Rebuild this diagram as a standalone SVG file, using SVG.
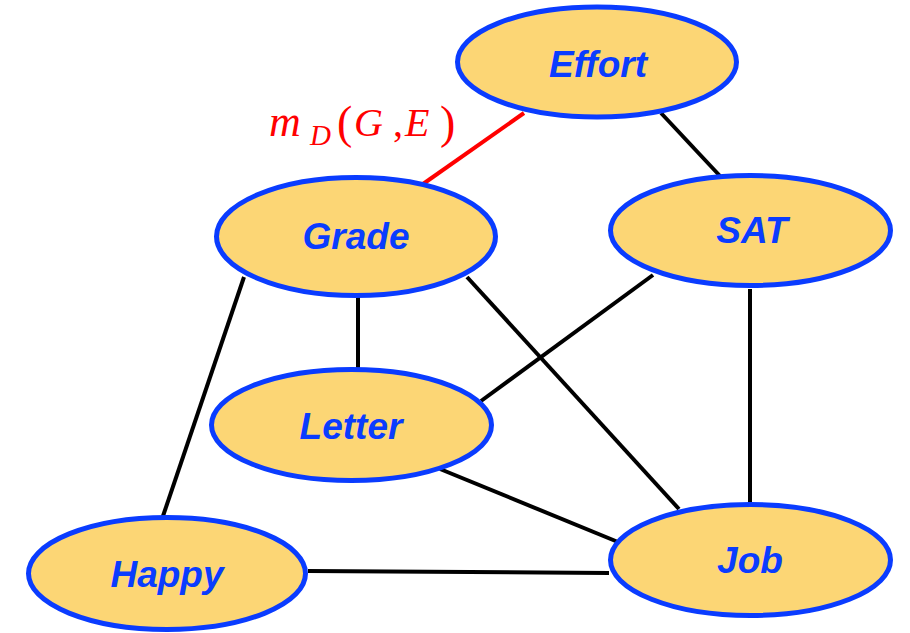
<svg xmlns="http://www.w3.org/2000/svg" width="910" height="633" viewBox="0 0 910 633">
<style>
.node ellipse{fill:#FCD675;stroke:#0A3CFF;stroke-width:5}
.node text{font-family:"Liberation Sans",Arial,sans-serif;font-weight:bold;font-style:italic;font-size:37px;fill:#0A3CFF;text-anchor:middle}
.edge{stroke:#000;stroke-width:4;fill:none}
.red{stroke:#FF0000}
.math{font-family:"Liberation Serif","Times New Roman",serif;fill:#FF0000;font-size:40px}
.it{font-style:italic}
.par{font-size:46px}
</style>
<rect width="910" height="633" fill="#fff"/>
<g id="connectors">
<line class="edge red" x1="423" y1="184" x2="524" y2="113"/>
<line class="edge" x1="661" y1="113" x2="720" y2="176"/>
<line class="edge" x1="244" y1="277" x2="162" y2="519"/>
<line class="edge" x1="358" y1="297" x2="358" y2="369"/>
<line class="edge" x1="467" y1="277" x2="679" y2="509"/>
<line class="edge" x1="653" y1="275" x2="481" y2="401"/>
<line class="edge" x1="750" y1="289" x2="750" y2="503"/>
<line class="edge" x1="440" y1="469" x2="618" y2="542"/>
<line class="edge" x1="308" y1="571" x2="609" y2="573"/>
</g>
<text id="label" class="math" y="136"><tspan x="269" class="it" font-size="44">m</tspan><tspan x="310" y="145" class="it" font-size="29">D</tspan><tspan x="337" y="138" class="par">(</tspan><tspan x="354" y="136" class="it">G</tspan><tspan x="393">,</tspan><tspan x="405" class="it">E</tspan><tspan x="440" y="138" class="par">)</tspan></text>
<g id="effort" class="node"><ellipse cx="597" cy="62" rx="139.5" ry="55"/><text x="598" y="77">Effort</text></g>
<g id="grade" class="node"><ellipse cx="356" cy="236.5" rx="139.5" ry="59"/><text x="356" y="249">Grade</text></g>
<g id="sat" class="node"><ellipse cx="750.5" cy="230.5" rx="140" ry="55"/><text x="752" y="243">SAT</text></g>
<g id="letter" class="node"><ellipse cx="351.5" cy="425" rx="140" ry="55.5"/><text x="351" y="439">Letter</text></g>
<g id="happy" class="node"><ellipse cx="167" cy="573.5" rx="138.5" ry="56"/><text x="167" y="587">Happy</text></g>
<g id="job" class="node"><ellipse cx="750.5" cy="560" rx="140" ry="55.5"/><text x="750" y="573">Job</text></g>
</svg>
